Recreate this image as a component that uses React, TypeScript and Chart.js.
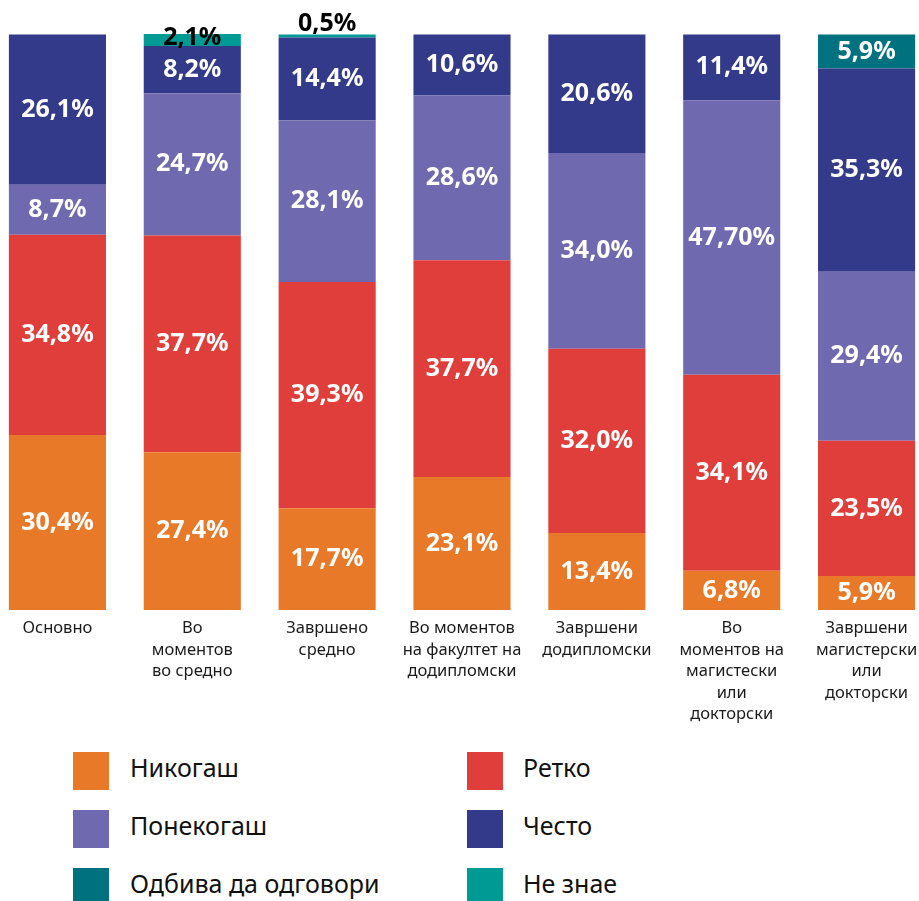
import React, { useEffect, useRef } from "react";
import { Chart, registerables } from "chart.js";

Chart.register(...registerables);

const categories: string[][] = [
  ["Основно"],
  ["Во", "моментов", "во средно"],
  ["Завршено", "средно"],
  ["Во моментов", "на факултет на", "додипломски"],
  ["Завршени", "додипломски"],
  ["Во", "моментов на", "магистески", "или", "докторски"],
  ["Завршени", "магистерски", "или", "докторски"],
];

const seriesNames = ["Никогаш", "Ретко", "Понекогаш", "Често", "Одбива да одговори", "Не знае"];

const nikogash = [30.4, 27.4, 17.7, 23.1, 13.4, 6.8, 5.9];
const retko = [34.8, 37.7, 39.3, 37.7, 32.0, 34.1, 23.5];
const ponekogash = [8.7, 24.7, 28.1, 28.6, 34.0, 47.7, 29.4];
const chesto = [26.1, 8.2, 14.4, 10.6, 20.6, 11.4, 35.3];
const odbiva = [null, null, null, null, null, null, 5.9];
const neZnae = [null, 2.1, 0.5, null, null, null, null];

// label text overrides: "datasetIndex-categoryIndex"
const labelOverrides: Record<string, string> = { "2-5": "47,70%" };

const seriesColors = ["#E87928", "#E03E3A", "#6F6AB0", "#333A8A", "#00717F", "#009A95"];

const FONT = "'Noto Sans', sans-serif";

const labelPlugin = {
  id: "segLabels",
  afterDatasetsDraw(chart: any) {
    const ctx = chart.ctx;
    ctx.save();
    ctx.font = `bold 25px ${FONT}`;
    ctx.textAlign = "center";
    ctx.textBaseline = "middle";
    chart.data.datasets.forEach((ds: any, di: number) => {
      const meta = chart.getDatasetMeta(di);
      meta.data.forEach((el: any, i: number) => {
        const v = ds.data[i];
        if (v == null) return;
        const { x, y, base } = el.getProps(["x", "y", "base"], true);
        let cy = (y + base) / 2;
        let color = "#ffffff";
        if (v < 1) {
          color = "#000000";
          cy = y - 11;
        } else if (v < 3) {
          color = "#000000";
          cy = cy - 2;
        }
        const txt = labelOverrides[`${di}-${i}`] ?? `${v.toFixed(1).replace(".", ",")}%`;
        ctx.fillStyle = color;
        ctx.fillText(txt, x, cy);
      });
    });
    ctx.restore();
  },
};

function ChartCanvas() {
  const ref = useRef<HTMLCanvasElement | null>(null);
  useEffect(() => {
    if (!ref.current) return;
    const seriesData = [nikogash, retko, ponekogash, chesto, odbiva, neZnae];
    const chart = new Chart(ref.current, {
      type: "bar",
      data: {
        labels: categories,
        datasets: seriesData.map((d, i) => ({
          label: seriesNames[i],
          data: d as any,
          backgroundColor: seriesColors[i],
          borderWidth: 0,
          barPercentage: 0.72,
          categoryPercentage: 1,
        })),
      },
      options: {
        animation: false,
        responsive: false,
        maintainAspectRatio: false,
        layout: { padding: { top: 34, left: 0, right: 0, bottom: 0 } },
        plugins: {
          legend: { display: false },
          tooltip: { enabled: false },
        },
        scales: {
          x: {
            stacked: true,
            grid: { display: false },
            border: { display: false },
            ticks: {
              autoSkip: false,
              maxRotation: 0,
              minRotation: 0,
              padding: 0,
              color: "#1a1a1a",
              font: { family: FONT, size: 16.5, lineHeight: 1.3 },
            },
            afterFit: (scale: any) => {
              scale.height = 130;
            },
          },
          y: {
            stacked: true,
            display: false,
            min: 0,
            max: 100.1,
          },
        },
      },
      plugins: [labelPlugin],
    });
    return () => chart.destroy();
  }, []);
  return (
    <canvas
      ref={ref}
      width={944}
      height={740}
      style={{ position: "absolute", left: -10, top: 0, width: 944, height: 740 }}
    />
  );
}

const legendRows = [
  [0, 1],
  [2, 3],
  [4, 5],
];

export default function App() {
  return (
    <div
      style={{
        position: "absolute",
        left: 0,
        top: 0,
        width: 919,
        height: 901,
        overflow: "hidden",
        background: "#ffffff",
      }}
    >
      <ChartCanvas />
      {legendRows.map((row, r) =>
        row.map((si, c) => (
          <div
            key={si}
            style={{
              position: "absolute",
              left: c === 0 ? 73 : 467,
              top: 752 + r * 58,
              height: 38,
              display: "flex",
              alignItems: "center",
              fontFamily: FONT,
              fontSize: 25,
              color: "#111",
              whiteSpace: "nowrap",
            }}
          >
            <span
              style={{
                display: "inline-block",
                width: 36,
                height: 38,
                background: seriesColors[si],
                marginRight: c === 0 ? 21 : 20,
              }}
            />
            <span style={{ position: "relative", top: -4 }}>{seriesNames[si]}</span>
          </div>
        ))
      )}
    </div>
  );
}
